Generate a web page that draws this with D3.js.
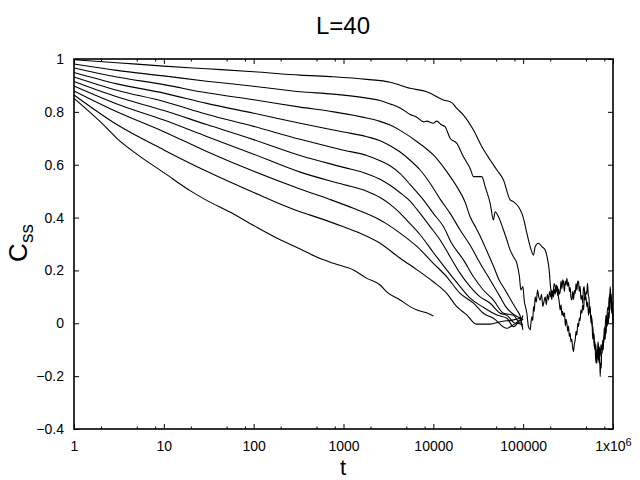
<!DOCTYPE html>
<html>
<head>
<meta charset="utf-8">
<script src="https://cdn.jsdelivr.net/npm/d3@7"></script>
<style>
  body { margin: 0; background: #fff; }
  svg { font-family: "Liberation Sans", Arial, sans-serif; }
</style>
</head>
<body>
<svg width="640" height="480"></svg>
<script>
// curves: [t, Css]
let curve1 = [[1,0.997],[3,0.986],[10,0.973],[30,0.963],[100,0.952],[329,0.939],[773,0.933],[1816,0.923],[3305,0.912],[5517,0.889],[8470,0.876],[12950,0.845],[16060,0.835],[18270,0.813],[21640,0.788],[27990,0.731],[34690,0.668],[42930,0.618],[50960,0.58],[60400,0.542],[71650,0.467],[78000,0.46],[88650,0.441],[96690,0.416],[102000,0.39],[109900,0.341],[119700,0.29],[130300,0.258],[136000,0.29],[148000,0.303],[161400,0.29],[175800,0.277],[183600,0.255],[196300,0.189],[200000,0.15],[203400,0.126],[208000,0.09],[212000,0.115],[217500,0.10],[222000,0.13],[228000,0.11],[233000,0.145],[237200,0.139],[242000,0.105],[248000,0.13],[253000,0.11],[258200,0.12],[264000,0.16],[270000,0.13],[276000,0.165],[281100,0.157],[288000,0.12],[294000,0.16],[300000,0.145],[306800,0.17],[313000,0.14],[320000,0.155],[327900,0.12],[334000,0.135],[341000,0.095],[348600,0.088],[356000,0.12],[364000,0.09],[372000,0.125],[379500,0.113],[388000,0.15],[396000,0.125],[405000,0.16],[413200,0.157],[421000,0.12],[430000,0.14],[440000,0.09],[450600,0.105],[460000,0.075],[468000,0.13],[477600,0.139],[488000,0.09],[500000,0.1],[511800,0.063],[522000,0.08],[534000,0.03],[545000,0.06],[557100,0.05],[570000,0.0],[582000,0.02],[594000,-0.06],[606500,-0.038],[618000,-0.09],[630000,-0.07],[640000,-0.13],[650100,-0.151],[660000,-0.1],[670000,-0.125],[680000,-0.07],[689700,-0.088],[700000,-0.15],[710000,-0.12],[719800,-0.202],[730000,-0.15],[740000,-0.17],[748000,-0.1],[758600,-0.113],[770000,-0.07],[780000,-0.1],[790000,-0.05],[798500,-0.063],[810000,-0.02],[820000,-0.06],[830000,-0.01],[839900,-0.038],[852000,0.02],[865000,-0.01],[878000,0.04],[890900,0.0],[900000,0.05],[910000,0.02],[920000,0.11],[930200,0.088],[940000,0.13],[950000,0.05],[960000,0.09],[972700,0.038],[985000,0.08],[1000000,0.0]]
let curve2 = [[1,0.981],[3,0.957],[10,0.936],[30,0.916],[100,0.897],[329,0.876],[773,0.867],[1816,0.852],[2557,0.843],[3305,0.83],[4270,0.815],[5517,0.79],[6600,0.779],[7800,0.762],[8470,0.765],[10000,0.757],[10900,0.765],[12400,0.75],[13500,0.744],[15380,0.70],[18270,0.681],[21640,0.63],[25690,0.586],[27990,0.555],[31900,0.555],[34690,0.555],[37740,0.517],[42930,0.454],[46680,0.391],[48700,0.422],[53090,0.403],[60400,0.353],[65900,0.315],[71650,0.277],[77980,0.252],[85040,0.227],[90920,0.176],[94270,0.126],[99300,0.139],[102600,0.088],[109900,0.038],[114500,-0.013],[119700,-0.025],[122000,0.0],[125000,0.025],[128000,0.01],[130300,0.063],[133000,0.045],[136000,0.10],[140000,0.08],[144300,0.126],[149000,0.1],[154600,0.088],[160000,0.11],[165700,0.063],[170000,0.08],[175800,0.10],[181000,0.07],[186000,0.11],[191300,0.088],[197000,0.12],[203000,0.1],[208800,0.126],[215000,0.11],[221000,0.15],[227200,0.139],[234000,0.12],[240000,0.14],[247200,0.10],[252000,0.08],[258200,0.05],[264000,0.07],[270000,0.03],[275000,0.045],[281100,0.025],[288000,0.04],[295000,-0.01],[300000,0.015],[306800,0.0],[313000,-0.03],[320000,-0.01],[326000,-0.05],[333600,-0.038],[340000,-0.07],[347000,-0.06],[355000,-0.09],[363000,-0.107],[371000,-0.08],[379500,-0.063],[388000,-0.03],[396000,-0.045],[405000,0.0],[413200,-0.013],[422000,0.02],[430000,0.01],[440000,0.05],[450600,0.038],[460000,0.07],[470000,0.05],[480000,0.1],[490000,0.088],[500000,0.12],[510000,0.11],[520000,0.151],[530000,0.11],[540000,0.095],[550000,0.04],[557100,0.063],[565000,0.02],[575000,0.03],[587000,-0.013],[597000,-0.013],[606000,-0.05],[615000,-0.04],[625000,-0.09],[634000,-0.1],[645000,-0.08],[655000,-0.14],[662000,-0.151],[675000,-0.1],[690000,-0.14],[705000,-0.09],[719800,-0.126],[735000,-0.08],[750000,-0.1],[771000,-0.063],[785000,-0.08],[800000,-0.02],[818000,-0.013],[835000,0.03],[850000,0.0],[870000,0.06],[890900,0.05],[905000,0.1],[918000,0.07],[930200,0.139],[945000,0.08],[958000,0.11],[972700,0.038],[985000,0.06],[1000000,0.012]]
let curve3 = [[1,0.966],[3,0.932],[10,0.903],[30,0.872],[100,0.846],[329,0.818],[773,0.80],[1816,0.777],[2557,0.764],[3305,0.75],[4270,0.73],[6600,0.687],[10000,0.637],[14100,0.574],[18270,0.517],[22500,0.46],[25690,0.403],[30000,0.36],[33190,0.33],[39000,0.277],[47000,0.214],[54000,0.164],[63000,0.126],[73000,0.088],[85000,0.05],[93000,0.025],[98000,-0.013]]
let curve4 = [[1,0.949],[3,0.906],[10,0.871],[30,0.832],[100,0.795],[329,0.757],[1000,0.724],[1816,0.706],[2557,0.691],[3305,0.672],[4270,0.648],[5517,0.617],[7130,0.58],[9210,0.53],[11900,0.47],[15380,0.416],[19870,0.353],[25690,0.295],[33190,0.227],[42930,0.164],[55450,0.10],[64000,0.063],[77000,0.035],[92600,0.019],[100000,0.012]]
let curve5 = [[1,0.932],[3,0.882],[10,0.839],[30,0.791],[100,0.745],[329,0.696],[1000,0.655],[1816,0.635],[2557,0.615],[3300,0.596],[4270,0.566],[5517,0.525],[7800,0.466],[10000,0.416],[12950,0.366],[16000,0.303],[21640,0.24],[28000,0.176],[36000,0.126],[46680,0.088],[60400,0.038],[78000,0.03],[92600,0.0],[99300,0.03]]
let curve6 = [[1,0.915],[3,0.857],[10,0.805],[30,0.752],[100,0.695],[329,0.635],[1000,0.59],[1816,0.566],[2557,0.545],[3300,0.522],[4270,0.494],[5517,0.462],[6600,0.43],[9210,0.366],[11900,0.315],[15380,0.252],[19870,0.189],[25690,0.139],[33190,0.10],[42930,0.076],[55450,0.038],[65900,0.03],[82000,0.0],[92600,0.012],[99300,-0.025]]
let curve7 = [[1,0.898],[3,0.83],[10,0.769],[30,0.707],[100,0.64],[329,0.572],[1000,0.525],[1816,0.50],[2557,0.476],[3305,0.45],[4270,0.417],[5060,0.39],[7130,0.335],[10000,0.268],[14100,0.202],[19870,0.139],[25690,0.095],[35000,0.063],[50960,0.031],[65900,0.019],[78000,-0.013],[92600,0.013],[99300,0.025]]
let curve8 = [[1,0.879],[3,0.80],[10,0.725],[30,0.65],[100,0.575],[329,0.508],[740,0.466],[1290,0.435],[2557,0.391],[2900,0.38],[4270,0.341],[6600,0.29],[10000,0.227],[14100,0.176],[19870,0.113],[27990,0.076],[36000,0.038],[46680,0.019],[65900,-0.019],[85040,0.0],[99300,-0.006]]
let curve9 = [[1,0.864],[3,0.752],[10,0.656],[30,0.575],[100,0.495],[329,0.422],[549,0.397],[1000,0.365],[1531,0.341],[2557,0.303],[4270,0.246],[6600,0.202],[10000,0.157],[14100,0.113],[18270,0.063],[23700,0.031],[30000,-0.003],[42930,-0.003],[55450,0.006],[77980,0.013],[92600,0.019]]
let curve10 = [[1,0.851],[2,0.76],[3,0.70],[5,0.64],[10,0.57],[20,0.50],[30,0.465],[55,0.42],[100,0.37],[200,0.315],[329,0.281],[549,0.245],[773,0.227],[1290,0.202],[1820,0.17],[2557,0.145],[3000,0.12],[4270,0.088],[5517,0.063],[6600,0.05],[8400,0.04],[10000,0.028]]

let curves = [curve1, curve2, curve3, curve4, curve5, curve6, curve7, curve8, curve9, curve10]

let xTicks = [1, 10, 100, 1000, 10000, 100000, 1000000]
let xTickLabels = ['1', '10', '100', '1000', '10000', '100000', '1x10']
let xMinor = []
xTicks.slice(0, 6).forEach(d => { xMinor.push(d * 2, d * 5, d * 8) })
let yTicks = [-0.4, -0.2, 0, 0.2, 0.4, 0.6, 0.8, 1]

let pLeft = 74, pRight = 613, pTop = 59, pBottom = 429

let svg = d3.select('svg')

let xScale = d3.scaleLog().domain([1, 1e6]).range([pLeft, pRight])
let yScale = d3.scaleLinear().domain([-0.4, 1]).range([pBottom, pTop])

// axes (ticks point inward)
let bottomAxis = svg.append('g')
  .attr('transform', 'translate(0,' + pBottom + ')')
  .call(d3.axisBottom(xScale).tickValues(xTicks).tickSize(-5).tickPadding(12)
    .tickFormat((d, i) => xTickLabels[i]))
bottomAxis.selectAll('text').filter(d => d === 1e6)
  .append('tspan').attr('dy', '-0.45em').attr('font-size', 11).text('6')

svg.append('g')
  .attr('transform', 'translate(0,' + pBottom + ')')
  .call(d3.axisBottom(xScale).tickValues(xMinor).tickSize(-2.5).tickFormat(''))
svg.append('g')
  .attr('transform', 'translate(0,' + pTop + ')')
  .call(d3.axisTop(xScale).tickValues(xTicks).tickSize(-5).tickFormat(''))
svg.append('g')
  .attr('transform', 'translate(0,' + pTop + ')')
  .call(d3.axisTop(xScale).tickValues(xMinor).tickSize(-2.5).tickFormat(''))

svg.append('g')
  .attr('transform', 'translate(' + pLeft + ',0)')
  .call(d3.axisLeft(yScale).tickValues(yTicks).tickSize(-5).tickPadding(10)
    .tickFormat(d3.format('')))
svg.append('g')
  .attr('transform', 'translate(' + pRight + ',0)')
  .call(d3.axisRight(yScale).tickValues(yTicks).tickSize(-5).tickFormat(''))

svg.selectAll('.domain').remove()
svg.selectAll('.tick line').attr('stroke', '#000').attr('stroke-width', 1)
svg.selectAll('.tick text').attr('font-size', 14).attr('fill', '#000')
  .attr('font-family', '"Liberation Sans", Arial, sans-serif')

// curves, smoothed between the read points
let line = d3.line()
  .x(d => xScale(d[0]))
  .y(d => yScale(d[1]))
  .curve(d3.curveMonotoneX)

svg.append('g')
  .selectAll('path')
  .data(curves)
  .enter()
  .append('path')
  .attr('d', line)
  .attr('fill', 'none')
  .attr('stroke', '#000')
  .attr('stroke-width', 1.1)
  .attr('stroke-linejoin', 'round')

// frame
svg.append('rect')
  .attr('x', pLeft).attr('y', pTop)
  .attr('width', pRight - pLeft).attr('height', pBottom - pTop)
  .attr('fill', 'none').attr('stroke', '#000').attr('stroke-width', 1.6)

// titles
svg.append('text')
  .attr('x', 343).attr('y', 34)
  .attr('text-anchor', 'middle').attr('font-size', 24)
  .text('L=40')

svg.append('text')
  .attr('x', 343).attr('y', 475)
  .attr('text-anchor', 'middle').attr('font-size', 22)
  .text('t')

let ylab = svg.append('text')
  .attr('transform', 'translate(27,243) rotate(-90)')
  .attr('text-anchor', 'middle').attr('font-size', 26)
ylab.append('tspan').text('C')
ylab.append('tspan').attr('font-size', 19).attr('dy', 6).text('ss')
</script>
</body>
</html>
